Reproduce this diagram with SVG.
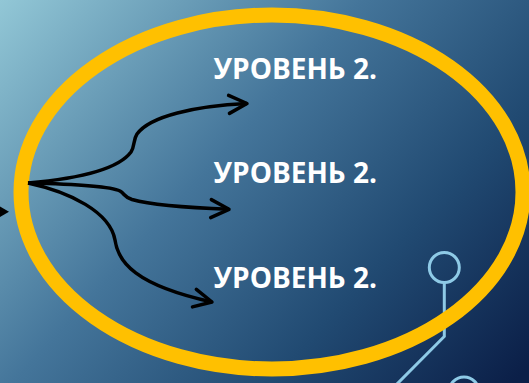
<svg xmlns="http://www.w3.org/2000/svg" width="529" height="383" viewBox="0 0 529 383">
  <defs>
    <linearGradient id="bg" gradientUnits="userSpaceOnUse" x1="0" y1="0" x2="470" y2="430">
      <stop offset="0" stop-color="#92c7d6"/>
      <stop offset="0.42" stop-color="#44759a"/>
      <stop offset="0.72" stop-color="#214a72"/>
      <stop offset="1" stop-color="#0b1f48"/>
    </linearGradient>
    <marker id="chev" markerUnits="userSpaceOnUse" orient="auto" overflow="visible" markerWidth="1" markerHeight="1">
      <path d="M-18,-9 L0,0 L-18,9" fill="none" stroke="#000" stroke-width="3.5" stroke-linecap="round" stroke-linejoin="round"/>
    </marker>
  </defs>
  <style>
    .lbl { font-family: "Open Sans", "DejaVu Sans", sans-serif; font-weight: 700; font-size: 28px; fill: #ffffff; }
    .conn { fill: none; stroke: #000; stroke-width: 3.5; marker-end: url(#chev); }
    .circ { fill: none; stroke: #8ecae6; stroke-width: 3; }
  </style>
  <rect width="529" height="383" fill="url(#bg)"/>
  <g id="circuit">
    <circle class="circ" cx="444.3" cy="267.5" r="15"/>
    <polyline class="circ" points="444.3,282.5 444.3,336.5 396,385"/>
    <circle class="circ" cx="464" cy="392" r="15"/>
  </g>
  <g id="oval">
    <ellipse cx="272" cy="192" rx="251" ry="177" fill="none" stroke="#ffc000" stroke-width="15"/>
  </g>
  <g id="incoming">
    <polygon points="0,206.5 9,211.7 0,217" fill="#000"/>
  </g>
  <g id="connectors">
    <path class="conn" d="M28,183 C85,178 120,167 131,152 C135,146 133,140 137,134 C150,116 195,106 247,103.5"/>
    <path class="conn" d="M28,183 C70,184 110,186 120,191 C125,194 124,197 132,199.5 C155,206 195,208 229,209.3"/>
    <path class="conn" d="M28,183 C70,192 110,212 115,240 C118,262 135,285 212,302"/>
  </g>
  <g id="node1"><text class="lbl" x="213.5" y="78.5">УРОВЕНЬ 2.</text></g>
  <g id="node2"><text class="lbl" x="213.5" y="183">УРОВЕНЬ 2.</text></g>
  <g id="node3"><text class="lbl" x="213.5" y="288">УРОВЕНЬ 2.</text></g>
</svg>
